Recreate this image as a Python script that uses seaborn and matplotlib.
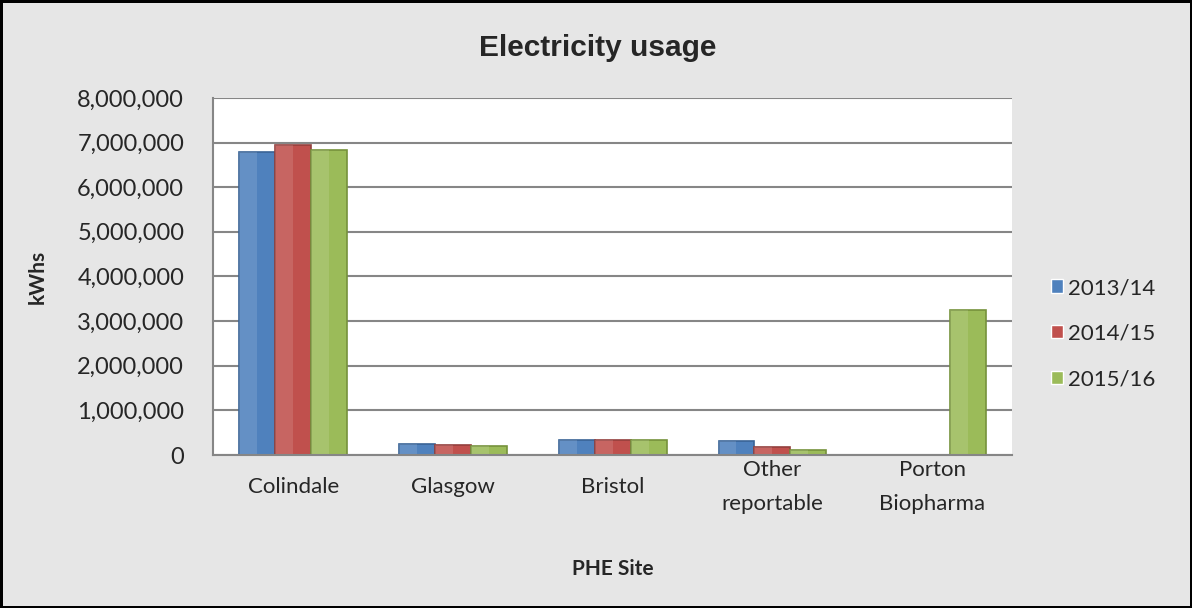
import pandas as pd
import seaborn as sns
import matplotlib.pyplot as plt
from matplotlib.patches import Rectangle
from matplotlib.ticker import FuncFormatter, FixedLocator

# data
sites = ['Colindale', 'Glasgow', 'Bristol', 'Other\nreportable', 'Porton\nBiopharma']
years = ['2013/14', '2014/15', '2015/16']
kwh_1314 = [6780000, 250000, 330000, 310000, 0]
kwh_1415 = [6940000, 230000, 330000, 180000, 0]
kwh_1516 = [6840000, 200000, 330000, 120000, 3240000]

colours = ['#4F81BD', '#C0504D', '#9BBB59']
edges = ['#3A6496', '#94403D', '#76923C']

df = pd.DataFrame({
    'site': sites * 3,
    'year': [y for y in years for _ in sites],
    'kwh': kwh_1314 + kwh_1415 + kwh_1516,
})

sns.set_style('white')
plt.rcParams['font.family'] = ['Lato', 'DejaVu Sans']

fig = plt.figure(figsize=(11.92, 6.08), dpi=100)
fig.patch.set_facecolor('#e6e6e6')
fig.patch.set_edgecolor('black')
fig.patch.set_linewidth(2.5)
ax = fig.add_axes([0.179, 0.2516, 0.67, 0.5874])

sns.barplot(data=df, x='site', y='kwh', hue='year', palette=colours,
            width=0.675, saturation=1, ax=ax, legend=True)

# darker outline per series + lighter left half (bevel look)
for cont, ec in zip(ax.containers, edges):
    for bar in cont:
        bar.set_edgecolor(ec)
        bar.set_linewidth(1.2)
        if bar.get_height() > 0:
            ax.add_patch(Rectangle((bar.get_x(), bar.get_y()), bar.get_width() / 2,
                                   bar.get_height(), facecolor='white', alpha=0.12,
                                   linewidth=0, zorder=bar.get_zorder() + 0.1))

ax.set_ylim(0, 8000000)
ax.set_xlim(-0.5, 4.5)
ax.set_yticks(range(0, 8000001, 1000000))
ax.yaxis.set_major_formatter(FuncFormatter(lambda v, p: f'{int(v):,}'))
ax.grid(axis='y', color='#868686', linewidth=1.5)
ax.set_axisbelow(True)

for s in ['top', 'right']:
    ax.spines[s].set_visible(False)
for s in ['left', 'bottom']:
    ax.spines[s].set_color('#868686')
    ax.spines[s].set_linewidth(1.5)

ax.tick_params(axis='y', which='major', length=8, width=1.5, color='#868686',
               direction='out', labelsize=17, pad=13)
ax.tick_params(axis='x', which='major', length=0, labelsize=16, pad=23)
for lab in ax.get_xticklabels():
    lab.set_verticalalignment('center')
    lab.set_linespacing(1.85)
ax.xaxis.set_minor_locator(FixedLocator([-0.5, 0.5, 1.5, 2.5, 3.5, 4.5]))
ax.tick_params(axis='x', which='minor', length=8, width=1.5, color='#868686',
               direction='out')

ax.set_xlabel('PHE Site', fontsize=15, fontweight='bold')
ax.xaxis.set_label_coords(0.5, -0.29)
ax.set_ylabel('kWhs', fontsize=15, fontweight='bold')
ax.yaxis.set_label_coords(-0.207, 0.5)
fig.text(0.501, 0.921, 'Electricity usage', ha='center', va='center',
         fontsize=21.5, fontweight='bold', family='Liberation Sans')

ax.legend(loc='center left', bbox_to_anchor=(1.038, 0.34), frameon=False,
          fontsize=16, handlelength=0.55, handleheight=0.55, handletextpad=0.2,
          labelspacing=1.15, title=None, borderaxespad=0)

fig.savefig('out.png', dpi=100, facecolor=fig.get_facecolor(),
            edgecolor=fig.get_edgecolor())
